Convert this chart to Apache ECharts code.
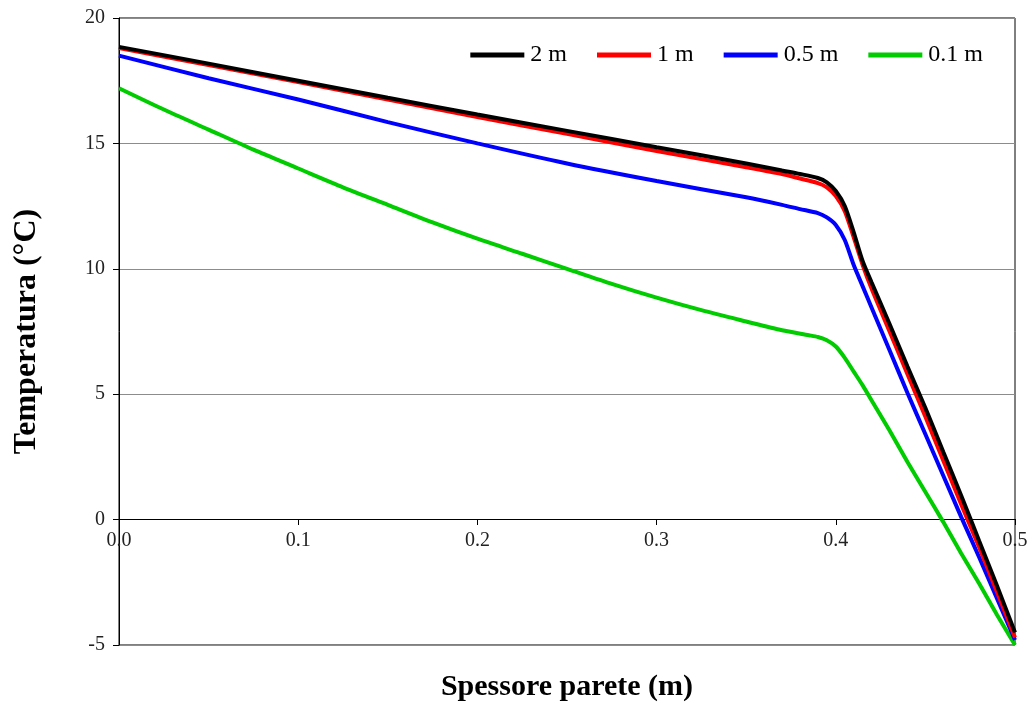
<!DOCTYPE html>
<html>
<head>
<meta charset="utf-8">
<script src="https://cdn.jsdelivr.net/npm/echarts@6/dist/echarts.min.js"></script>
<style>
  html, body { margin: 0; padding: 0; background: #fff; }
  #chart { width: 1032px; height: 706px; }
</style>
</head>
<body>
<div id="chart"></div>
<script>
// spessore parete (m) / temperatura (°C)
const seriesNames = ['2 m', '1 m', '0.5 m', '0.1 m'];
const seriesColors = ['#000000', '#ff0000', '#0000ff', '#00cc00'];

const xWall = [0, 0.05, 0.1, 0.15, 0.2, 0.25, 0.3, 0.35, 0.37, 0.38, 0.39, 0.395, 0.4, 0.405, 0.41, 0.415, 0.42, 0.43, 0.44, 0.45, 0.46, 0.47, 0.48, 0.49, 0.5];
const y2m = [18.85, 18.18, 17.5, 16.82, 16.15, 15.5, 14.85, 14.2, 13.92, 13.78, 13.62, 13.45, 13.1, 12.5, 11.45, 10.3, 9.45, 7.8, 6.1, 4.45, 2.7, 0.95, -0.85, -2.65, -4.5];
const y1m = [18.8, 18.12, 17.45, 16.75, 16.05, 15.38, 14.7, 14.05, 13.78, 13.6, 13.42, 13.25, 12.9, 12.3, 11.25, 10.15, 9.2, 7.5, 5.8, 4.1, 2.35, 0.6, -1.1, -2.9, -4.7];
const y05m = [18.5, 17.6, 16.75, 15.85, 15.0, 14.2, 13.5, 12.85, 12.55, 12.38, 12.22, 12.05, 11.75, 11.15, 10.15, 9.3, 8.45, 6.75, 5.05, 3.4, 1.75, 0.1, -1.5, -3.15, -4.8];

const x01m = [0, 0.025, 0.05, 0.075, 0.1, 0.125, 0.15, 0.175, 0.2, 0.225, 0.25, 0.275, 0.3, 0.325, 0.35, 0.37, 0.385, 0.39, 0.395, 0.4, 0.405, 0.41, 0.415, 0.42, 0.43, 0.44, 0.45, 0.46, 0.47, 0.48, 0.49, 0.5];
const y01m = [17.2, 16.35, 15.55, 14.75, 14.0, 13.25, 12.55, 11.85, 11.2, 10.6, 10.0, 9.4, 8.85, 8.35, 7.9, 7.55, 7.35, 7.28, 7.15, 6.9, 6.45, 5.9, 5.35, 4.75, 3.55, 2.3, 1.1, -0.1, -1.35, -2.55, -3.8, -5.0];

const xData = [xWall, xWall, xWall, x01m];
const yData = [y2m, y1m, y05m, y01m];

const serif = 'Liberation Serif, Times New Roman, serif';

const series = seriesNames.map((name, i) => ({
  name: name,
  type: 'line',
  smooth: 0.25,
  showSymbol: false,
  lineStyle: { width: 4, color: seriesColors[i] },
  itemStyle: { color: seriesColors[i] },
  z: 10 - i,
  data: xData[i].map((x, k) => [x, yData[i][k]])
}));

const option = {
  animation: false,
  backgroundColor: '#fff',
  grid: {
    left: 119, right: 17, top: 18, bottom: 61,
    outerBoundsMode: 'none',
    containLabel: false,
    show: true, borderColor: '#000', borderWidth: 1
  },
  legend: {
    data: seriesNames,
    right: 44, top: 38,
    icon: 'rect',
    itemWidth: 54, itemHeight: 5,
    itemGap: 30,
    textStyle: { fontFamily: serif, fontSize: 24, color: '#000', padding: [0, 0, 0, 1] }
  },
  xAxis: {
    type: 'value',
    min: 0, max: 0.5, interval: 0.1,
    position: 'bottom',
    offset: -126,
    name: 'Spessore parete (m)',
    nameLocation: 'middle',
    nameGap: 153,
    nameTextStyle: { fontFamily: serif, fontSize: 30, fontWeight: 'bold', color: '#000' },
    axisLine: { onZero: false, lineStyle: { color: '#000', width: 1 } },
    axisTick: { show: true, length: 6, lineStyle: { color: '#000' } },
    axisLabel: {
      fontFamily: serif, fontSize: 20, color: '#222', margin: 12,
      formatter: v => v.toFixed(1)
    },
    splitLine: { show: false }
  },
  yAxis: {
    type: 'value',
    min: -5, max: 20, interval: 5,
    name: 'Temperatura (°C)',
    nameLocation: 'middle',
    nameGap: 76,
    nameTextStyle: { fontFamily: serif, fontSize: 32, fontWeight: 'bold', color: '#000' },
    axisLine: { show: true, lineStyle: { color: '#000', width: 1 } },
    axisTick: { show: true, length: 6, lineStyle: { color: '#000' } },
    axisLabel: { fontFamily: serif, fontSize: 20, color: '#222', margin: 14 },
    splitLine: { show: true, lineStyle: { color: '#8c8c8c', width: 1 } }
  },
  series: series
};

let chartDom = document.getElementById('chart');
let myChart = echarts.init(chartDom);
myChart.setOption(option);
</script>
</body>
</html>
